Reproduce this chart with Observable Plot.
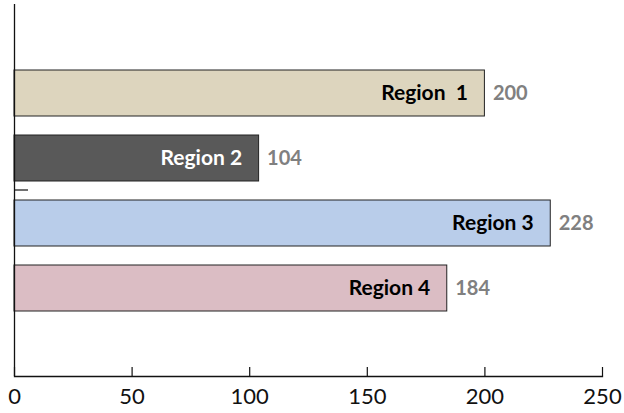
<!DOCTYPE html>
<html>
<head>
<meta charset="utf-8">
<script src="https://cdn.jsdelivr.net/npm/d3@7"></script>
<script src="https://cdn.jsdelivr.net/npm/@observablehq/plot@0.6"></script>
<style>
  html, body { margin: 0; padding: 0; background: #fff; }
  svg text { white-space: pre; }
</style>
</head>
<body>
<div id="chart"></div>
<script>
const regions = ["Region  1", "Region 2", "Region 3", "Region 4"];
const values = [200, 104, 228, 184];
const fills = ["#DDD5BE", "#595959", "#B9CDEA", "#DBBDC4"];
const labelColors = ["black", "white", "black", "black"];
const xTicks = [0, 50, 100, 150, 200, 250];

const data = regions.map((r, i) => ({region: r, value: values[i], labelColor: labelColors[i]}));

const midTick = (index, scales, values, dims) => {
  const g = d3.create("svg:g");
  const yMid = (dims.marginTop + dims.height - dims.marginBottom) / 2;
  const x0 = scales.x(0);
  g.append("line")
    .attr("x1", x0).attr("x2", x0 + 14)
    .attr("y1", yMid).attr("y2", yMid)
    .attr("stroke", "#111").attr("stroke-width", 1.2);
  return g.node();
};

const chart = Plot.plot({
  width: 624,
  height: 413,
  marginLeft: 14,
  marginRight: 22,
  marginTop: 4,
  marginBottom: 37,
  style: {fontFamily: "Lato, sans-serif", background: "#fff", overflow: "visible"},
  x: {domain: [0, 250], axis: null, label: null},
  y: {domain: regions, paddingInner: 0.3, paddingOuter: 1, axis: null},
  color: {domain: regions, range: fills},
  marks: [
    Plot.barX(data, {x: "value", y: "region", fill: "region", stroke: "#222", strokeWidth: 1}),
    Plot.text(data, {filter: d => d.labelColor === "black", x: "value", y: "region", text: "region",
      textAnchor: "end", dx: -17, fill: "black", fontWeight: "bold", fontSize: 21}),
    Plot.text(data, {filter: d => d.labelColor === "white", x: "value", y: "region", text: "region",
      textAnchor: "end", dx: -17, fill: "white", fontWeight: "bold", fontSize: 21}),
    Plot.text(data, {x: "value", y: "region", text: d => String(d.value),
      textAnchor: "start", dx: 8, fill: "#808080", fontWeight: "bold", fontSize: 20}),
    Plot.ruleX([0], {stroke: "#111", strokeWidth: 1.3}),
    Plot.frame({anchor: "bottom", stroke: "#111", strokeWidth: 1.3}),
    Plot.ruleX(xTicks, {insetTop: 363, stroke: "#111", strokeWidth: 1.2}),
    Plot.axisX(xTicks, {tickSize: 0, tickPadding: 12, fontSize: 22, fill: "#111", label: null}),
    midTick
  ]
});
document.getElementById("chart").appendChild(chart);
</script>
</body>
</html>
